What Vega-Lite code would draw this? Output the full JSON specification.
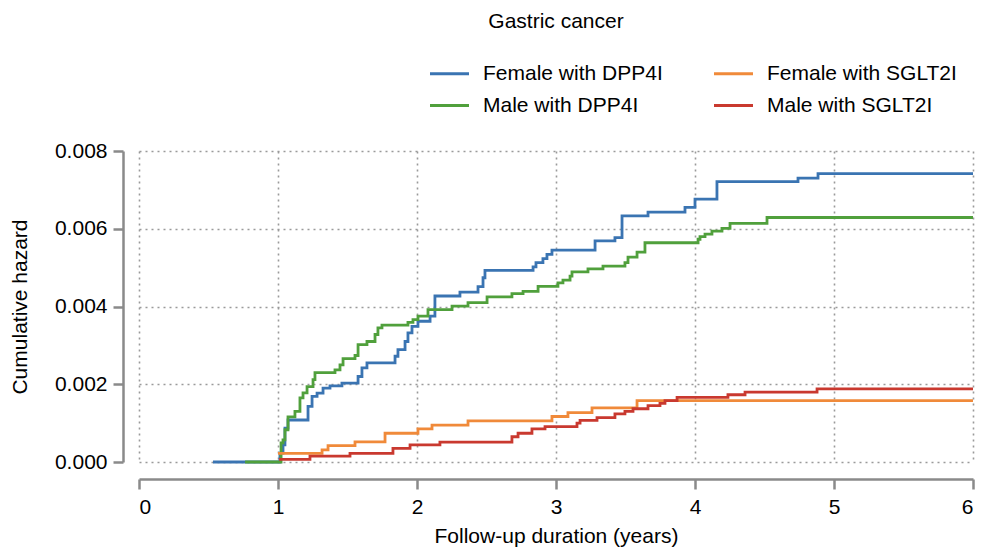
{
  "$schema": "https://vega.github.io/schema/vega-lite/v6.json",
  "width": 834,
  "height": 311,
  "autosize": "none",
  "padding": {"left": 139, "top": 151, "right": 8, "bottom": 89},
  "background": "white",
  "title": {"text": "Gastric cancer", "anchor": "middle", "fontSize": 21, "font": "Liberation Sans", "fontWeight": "normal", "color": "black", "baseline": "bottom", "offset": 7, "dy": 8},
  "config": {"view": {"stroke": null}, "font": "Liberation Sans"},
  "data": {"values": [
    {"g": "Female with DPP4I", "t": 0.532, "h": 0},
    {"g": "Female with DPP4I", "t": 1.014, "h": 0.00023},
    {"g": "Female with DPP4I", "t": 1.036, "h": 0.00044},
    {"g": "Female with DPP4I", "t": 1.05, "h": 0.00087},
    {"g": "Female with DPP4I", "t": 1.072, "h": 0.00108},
    {"g": "Female with DPP4I", "t": 1.216, "h": 0.00143},
    {"g": "Female with DPP4I", "t": 1.245, "h": 0.00169},
    {"g": "Female with DPP4I", "t": 1.281, "h": 0.00177},
    {"g": "Female with DPP4I", "t": 1.324, "h": 0.0019},
    {"g": "Female with DPP4I", "t": 1.374, "h": 0.00196},
    {"g": "Female with DPP4I", "t": 1.46, "h": 0.00203},
    {"g": "Female with DPP4I", "t": 1.576, "h": 0.0022},
    {"g": "Female with DPP4I", "t": 1.604, "h": 0.00242},
    {"g": "Female with DPP4I", "t": 1.64, "h": 0.00255},
    {"g": "Female with DPP4I", "t": 1.842, "h": 0.00272},
    {"g": "Female with DPP4I", "t": 1.863, "h": 0.00289},
    {"g": "Female with DPP4I", "t": 1.914, "h": 0.0031},
    {"g": "Female with DPP4I", "t": 1.935, "h": 0.00332},
    {"g": "Female with DPP4I", "t": 1.964, "h": 0.00349},
    {"g": "Female with DPP4I", "t": 2.007, "h": 0.00362},
    {"g": "Female with DPP4I", "t": 2.094, "h": 0.00375},
    {"g": "Female with DPP4I", "t": 2.129, "h": 0.00427},
    {"g": "Female with DPP4I", "t": 2.309, "h": 0.00437},
    {"g": "Female with DPP4I", "t": 2.439, "h": 0.00451},
    {"g": "Female with DPP4I", "t": 2.475, "h": 0.00474},
    {"g": "Female with DPP4I", "t": 2.489, "h": 0.00493},
    {"g": "Female with DPP4I", "t": 2.835, "h": 0.00502},
    {"g": "Female with DPP4I", "t": 2.856, "h": 0.00513},
    {"g": "Female with DPP4I", "t": 2.906, "h": 0.00523},
    {"g": "Female with DPP4I", "t": 2.935, "h": 0.00534},
    {"g": "Female with DPP4I", "t": 2.971, "h": 0.00545},
    {"g": "Female with DPP4I", "t": 3.281, "h": 0.00569},
    {"g": "Female with DPP4I", "t": 3.424, "h": 0.00577},
    {"g": "Female with DPP4I", "t": 3.475, "h": 0.00633},
    {"g": "Female with DPP4I", "t": 3.662, "h": 0.00643},
    {"g": "Female with DPP4I", "t": 3.928, "h": 0.00655},
    {"g": "Female with DPP4I", "t": 4.0, "h": 0.00676},
    {"g": "Female with DPP4I", "t": 4.158, "h": 0.00721},
    {"g": "Female with DPP4I", "t": 4.741, "h": 0.0073},
    {"g": "Female with DPP4I", "t": 4.885, "h": 0.00742},
    {"g": "Female with DPP4I", "t": 6.0, "h": 0.00742},
    {"g": "Male with DPP4I", "t": 0.763, "h": 0},
    {"g": "Male with DPP4I", "t": 1.022, "h": 0.00049},
    {"g": "Male with DPP4I", "t": 1.036, "h": 0.00057},
    {"g": "Male with DPP4I", "t": 1.05, "h": 0.00083},
    {"g": "Male with DPP4I", "t": 1.072, "h": 0.00116},
    {"g": "Male with DPP4I", "t": 1.122, "h": 0.0013},
    {"g": "Male with DPP4I", "t": 1.158, "h": 0.00165},
    {"g": "Male with DPP4I", "t": 1.18, "h": 0.00178},
    {"g": "Male with DPP4I", "t": 1.209, "h": 0.00194},
    {"g": "Male with DPP4I", "t": 1.252, "h": 0.00212},
    {"g": "Male with DPP4I", "t": 1.266, "h": 0.0023},
    {"g": "Male with DPP4I", "t": 1.41, "h": 0.00237},
    {"g": "Male with DPP4I", "t": 1.446, "h": 0.0025},
    {"g": "Male with DPP4I", "t": 1.468, "h": 0.00266},
    {"g": "Male with DPP4I", "t": 1.554, "h": 0.00274},
    {"g": "Male with DPP4I", "t": 1.576, "h": 0.00302},
    {"g": "Male with DPP4I", "t": 1.64, "h": 0.0031},
    {"g": "Male with DPP4I", "t": 1.698, "h": 0.00328},
    {"g": "Male with DPP4I", "t": 1.719, "h": 0.00345},
    {"g": "Male with DPP4I", "t": 1.748, "h": 0.00352},
    {"g": "Male with DPP4I", "t": 1.935, "h": 0.00359},
    {"g": "Male with DPP4I", "t": 1.971, "h": 0.00366},
    {"g": "Male with DPP4I", "t": 2.007, "h": 0.00375},
    {"g": "Male with DPP4I", "t": 2.079, "h": 0.00392},
    {"g": "Male with DPP4I", "t": 2.252, "h": 0.00401},
    {"g": "Male with DPP4I", "t": 2.367, "h": 0.0041},
    {"g": "Male with DPP4I", "t": 2.504, "h": 0.00425},
    {"g": "Male with DPP4I", "t": 2.683, "h": 0.00433},
    {"g": "Male with DPP4I", "t": 2.763, "h": 0.00439},
    {"g": "Male with DPP4I", "t": 2.871, "h": 0.00452},
    {"g": "Male with DPP4I", "t": 3.014, "h": 0.00461},
    {"g": "Male with DPP4I", "t": 3.05, "h": 0.00468},
    {"g": "Male with DPP4I", "t": 3.101, "h": 0.00478},
    {"g": "Male with DPP4I", "t": 3.115, "h": 0.00489},
    {"g": "Male with DPP4I", "t": 3.23, "h": 0.00497},
    {"g": "Male with DPP4I", "t": 3.338, "h": 0.00504},
    {"g": "Male with DPP4I", "t": 3.496, "h": 0.00513},
    {"g": "Male with DPP4I", "t": 3.518, "h": 0.00527},
    {"g": "Male with DPP4I", "t": 3.583, "h": 0.0054},
    {"g": "Male with DPP4I", "t": 3.64, "h": 0.00564},
    {"g": "Male with DPP4I", "t": 4.022, "h": 0.00573},
    {"g": "Male with DPP4I", "t": 4.036, "h": 0.0058},
    {"g": "Male with DPP4I", "t": 4.072, "h": 0.00586},
    {"g": "Male with DPP4I", "t": 4.122, "h": 0.00594},
    {"g": "Male with DPP4I", "t": 4.194, "h": 0.00601},
    {"g": "Male with DPP4I", "t": 4.252, "h": 0.00614},
    {"g": "Male with DPP4I", "t": 4.518, "h": 0.00629},
    {"g": "Male with DPP4I", "t": 6.0, "h": 0.00629},
    {"g": "Female with SGLT2I", "t": 1.0, "h": 0.00022},
    {"g": "Female with SGLT2I", "t": 1.317, "h": 0.00031},
    {"g": "Female with SGLT2I", "t": 1.36, "h": 0.00042},
    {"g": "Female with SGLT2I", "t": 1.554, "h": 0.00052},
    {"g": "Female with SGLT2I", "t": 1.77, "h": 0.00074},
    {"g": "Female with SGLT2I", "t": 2.007, "h": 0.00085},
    {"g": "Female with SGLT2I", "t": 2.108, "h": 0.00095},
    {"g": "Female with SGLT2I", "t": 2.367, "h": 0.00106},
    {"g": "Female with SGLT2I", "t": 2.971, "h": 0.00117},
    {"g": "Female with SGLT2I", "t": 3.086, "h": 0.00127},
    {"g": "Female with SGLT2I", "t": 3.259, "h": 0.00139},
    {"g": "Female with SGLT2I", "t": 3.583, "h": 0.00158},
    {"g": "Female with SGLT2I", "t": 6.0, "h": 0.00158},
    {"g": "Male with SGLT2I", "t": 1.007, "h": 0.00007},
    {"g": "Male with SGLT2I", "t": 1.23, "h": 0.00015},
    {"g": "Male with SGLT2I", "t": 1.518, "h": 0.00022},
    {"g": "Male with SGLT2I", "t": 1.827, "h": 0.00035},
    {"g": "Male with SGLT2I", "t": 1.95, "h": 0.00044},
    {"g": "Male with SGLT2I", "t": 2.165, "h": 0.00051},
    {"g": "Male with SGLT2I", "t": 2.683, "h": 0.00065},
    {"g": "Male with SGLT2I", "t": 2.727, "h": 0.00074},
    {"g": "Male with SGLT2I", "t": 2.827, "h": 0.00085},
    {"g": "Male with SGLT2I", "t": 2.921, "h": 0.00091},
    {"g": "Male with SGLT2I", "t": 3.151, "h": 0.001},
    {"g": "Male with SGLT2I", "t": 3.173, "h": 0.00107},
    {"g": "Male with SGLT2I", "t": 3.295, "h": 0.00114},
    {"g": "Male with SGLT2I", "t": 3.424, "h": 0.00124},
    {"g": "Male with SGLT2I", "t": 3.496, "h": 0.0013},
    {"g": "Male with SGLT2I", "t": 3.554, "h": 0.00137},
    {"g": "Male with SGLT2I", "t": 3.662, "h": 0.00145},
    {"g": "Male with SGLT2I", "t": 3.748, "h": 0.00151},
    {"g": "Male with SGLT2I", "t": 3.784, "h": 0.00158},
    {"g": "Male with SGLT2I", "t": 3.871, "h": 0.00166},
    {"g": "Male with SGLT2I", "t": 4.237, "h": 0.00173},
    {"g": "Male with SGLT2I", "t": 4.36, "h": 0.0018},
    {"g": "Male with SGLT2I", "t": 4.878, "h": 0.00188},
    {"g": "Male with SGLT2I", "t": 6.0, "h": 0.00188}
  ]},
  "mark": {"type": "line", "interpolate": "step-after", "strokeWidth": 2.8},
  "encoding": {
    "x": {"field": "t", "type": "quantitative",
      "scale": {"domain": [0, 6], "nice": false, "zero": false},
      "axis": {"title": "Follow-up duration (years)", "values": [0, 1, 2, 3, 4, 5, 6], "format": "d", "offset": 17,
        "tickSize": 10, "tickWidth": 2.5, "tickColor": "#8a8a8a", "domainColor": "#8a8a8a", "domainWidth": 2.5,
        "labelFontSize": 21, "labelColor": "black", "labelPadding": 7, "labelFont": "Liberation Sans",
        "titleFontSize": 21, "titleFontWeight": "normal", "titleColor": "black", "titlePadding": 8, "titleFont": "Liberation Sans",
        "grid": true, "gridColor": "#9a9a9a", "gridDash": [2, 4], "gridWidth": 1.6}},
    "y": {"field": "h", "type": "quantitative",
      "scale": {"domain": [0, 0.008], "nice": false},
      "axis": {"title": "Cumulative hazard", "values": [0, 0.002, 0.004, 0.006, 0.008], "format": ".3f", "offset": 16,
        "tickSize": 10, "tickWidth": 2.5, "tickColor": "#8a8a8a", "domainColor": "#8a8a8a", "domainWidth": 2.5,
        "labelFontSize": 21, "labelColor": "black", "labelPadding": 6, "labelFont": "Liberation Sans",
        "titleFontSize": 21, "titleFontWeight": "normal", "titleColor": "black", "titlePadding": 24, "titleFont": "Liberation Sans",
        "grid": true, "gridColor": "#9a9a9a", "gridDash": [2, 4], "gridWidth": 1.6}},
    "color": {"field": "g", "type": "nominal",
      "scale": {"domain": ["Female with DPP4I", "Female with SGLT2I", "Male with DPP4I", "Male with SGLT2I"],
                "range": ["#3a74b2", "#f08a3a", "#50a03c", "#c9392f"]},
      "legend": {"orient": "none", "legendX": 289, "legendY": -99, "columns": 2, "direction": "horizontal", "title": null,
        "symbolType": "stroke", "symbolSize": 1521, "symbolStrokeWidth": 3.2, "labelFontSize": 21, "labelColor": "black",
        "labelFont": "Liberation Sans", "labelOffset": 12, "columnPadding": 44, "rowPadding": -7, "labelLimit": 400}}
  }
}
